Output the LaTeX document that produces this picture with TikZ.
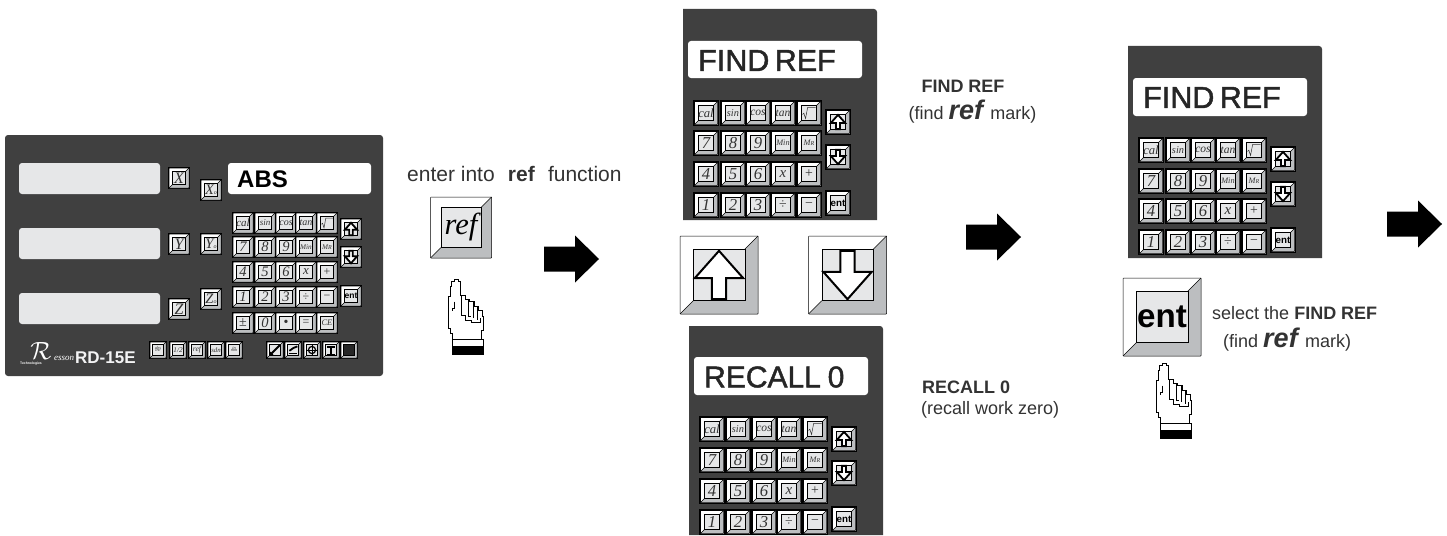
\documentclass[tikz,border=0pt]{standalone}
\usepackage{fontspec}
\setmainfont{Liberation Sans}
\newfontfamily\keyserif{Liberation Serif}
\newfontfamily\dispfont{Liberation Sans}[FakeBold=1.5]
\definecolor{panelgray}{HTML}{404040}
\definecolor{bevelgray}{HTML}{BCBEC0}
\definecolor{facegray}{HTML}{E6E7E8}
\definecolor{inkgray}{HTML}{333333}
\newcount\kn
\newcommand{\fsz}[1]{\fontsize{#1}{#1}\selectfont}
\tikzset{
  panelbox/.style={fill=panelgray},
  dispbox/.style={fill=#1,rounded corners=3pt},
  outtext/.style={inner sep=0pt,anchor=west,text=inkgray},
  keylabel/.style={inner sep=0pt,text=inkgray},
  keyline/.style={black,line width=.5pt},
  keyicon/.style={black,line cap=butt},
}
\def\kr{.66}
\newcommand{\keybody}{%
  \fill[white] (-1,-1) rectangle (1,1);
  \fill[bevelgray] (1,-1)--(1,1)--(-1,1)--(-\kr,\kr)--(\kr,\kr)--(\kr,-\kr)--cycle;
  \draw[keyline] (-1,1)--(-\kr,\kr) (1,-1)--(\kr,-\kr);
  \draw[keyline,rounded corners=.6pt] (-1,-1) rectangle (1,1);
  \draw[keyline,fill=facegray] (-\kr,-\kr) rectangle (\kr,\kr);
}
\let\keyextra\relax
% #1 x, #2 y, #3 half size, #4 label scale, #5 label
\newcommand{\ky}[5]{%
  \global\advance\kn by 1
  \pgfmathsetmacro\fs{#3*#4}
  \def\kr{.66}%
  \begin{scope}[shift={(#1,#2)},x=#3pt,y=-#3pt]
    \fill[black] (-1.12,-1.12) rectangle (1.12,1.12);
    \keybody
    \node[keylabel] (key\the\kn) at (0,0) {\fsz{\fs}#5};
    \keyextra
  \end{scope}%
  \global\let\keyextra\relax
}
\newcommand{\bigky}[5]{%
  \global\advance\kn by 1
  \pgfmathsetmacro\fs{#3*#4}
  \def\kr{.66}%
  \begin{scope}[shift={(#1,#2)},x=#3pt,y=-#3pt]
    \keybody
    \node[keylabel,text=black] (key\the\kn) at (0,0) {\fsz{\fs}#5};
    \keyextra
  \end{scope}%
  \global\let\keyextra\relax
}
\newcommand{\upglyph}[1]{\gdef\keyextra{\draw[black,fill=white,line width=#1pt] (0,-.62)--(.62,.08)--(.18,.08)--(.18,.62)--(-.18,.62)--(-.18,.08)--(-.62,.08)--cycle;}}
\newcommand{\downglyph}[1]{\gdef\keyextra{\draw[black,fill=white,line width=#1pt] (0,.62)--(.62,-.08)--(.18,-.08)--(.18,-.62)--(-.18,-.62)--(-.18,-.08)--(-.62,-.08)--cycle;}}
\newcommand{\rootglyph}{\gdef\keyextra{\draw[inkgray,line width=.5pt] (-.56,.12)--(-.45,.02)--(-.3,.48)--(-.12,-.48)--(.58,-.48);}}
\newcommand{\kit}[1]{{\keyserif\itshape #1}}
\newcommand{\padkeys}[1]{%
  \def\kh{#1}%
  \ky{\xa}{\ya}{\kh}{1.1}{\kit{cal}}
  \ky{\xb}{\ya}{\kh}{.9}{\kit{sin}}
  \ky{\xc}{\ya}{\kh}{1}{\kit{cos}}
  \ky{\xd}{\ya}{\kh}{1}{\kit{tan}}
  \rootglyph\ky{\xe}{\ya}{\kh}{1}{}
  \ky{\xa}{\yb}{\kh}{1.45}{\kit{7}}
  \ky{\xb}{\yb}{\kh}{1.45}{\kit{8}}
  \ky{\xc}{\yb}{\kh}{1.45}{\kit{9}}
  \ky{\xd}{\yb}{\kh}{.72}{\kit{Min}}
  \ky{\xe}{\yb}{\kh}{.72}{\kit{M\fsz{6}R}}
  \ky{\xa}{\yc}{\kh}{1.45}{\kit{4}}
  \ky{\xb}{\yc}{\kh}{1.45}{\kit{5}}
  \ky{\xc}{\yc}{\kh}{1.45}{\kit{6}}
  \ky{\xd}{\yc}{\kh}{1.3}{\kit{x}}
  \ky{\xe}{\yc}{\kh}{1.2}{\keyserif +}
  \ky{\xa}{\yd}{\kh}{1.45}{\kit{1}}
  \ky{\xb}{\yd}{\kh}{1.45}{\kit{2}}
  \ky{\xc}{\yd}{\kh}{1.45}{\kit{3}}
  \ky{\xd}{\yd}{\kh}{1.2}{\keyserif ÷}
  \ky{\xe}{\yd}{\kh}{1.2}{\keyserif −}
}
\newcommand{\sidekeys}[4]{%
  \upglyph{1.8}\ky{#1}{#2}{\kh}{1}{}
  \downglyph{1.8}\ky{#1}{#3}{\kh}{1}{}
  \ky{#1}{#4}{\kh}{.85}{\textcolor{black}{\textbf{ent}}}
}
\newcommand{\bigarrow}[2]{%
  \fill[black] (#1,#2-12.5)--++(31,0)--++(0,-11)--(#1+55,#2)--(#1+31,#2+23.5)--(#1+31,#2+12.5)--(#1,#2+12.5)--cycle;
}
\newcommand{\hand}[2]{%
  \begin{scope}[shift={(#1,#2)},x=.3333pt,y=-.3333pt]
    \draw[black,fill=white,line width=.9pt] (157,567)--(157,550)--(150,550)--(150,535)--(145,535)--(145,440)--(150,440)--(150,410)--(155,410)--(155,395)--(162,395)--(162,387)--(175,387)--(175,395)--(180,395)--(180,437)--(195,437)--(195,447)--(207,447)--(207,455)--(222,455)--(222,470)--(235,470)--(235,482)--(247,482)--(247,500)--(250,500)--(250,540)--(245,540)--(245,567)--cycle;
    \draw[black,line width=.9pt] (185,437)--(185,495)--(195,495)--(195,510)--(215,510)--(215,518)--(240,518)--(240,505);
    \draw[black,line width=.9pt] (204,447)--(204,500)--(212,500);
    \draw[black,line width=.9pt] (219,455)--(219,505);
    \draw[black,line width=.9pt] (233,470)--(233,510);
    \draw[black,line width=.9pt] (162,455)--(162,475)--(157,475)--(157,482);
    \draw[black,fill=white,line width=.9pt] (156,567) rectangle (251,590);
    \fill[black] (155,590) rectangle (252,614);
  \end{scope}%
}
\begin{document}
\begin{tikzpicture}[x=1pt,y=-1pt]
\useasboundingbox (0,0) rectangle (1447,535);
\fill[white] (0,0) rectangle (1447,535);

% ---------- main console
\fill[panelgray,rounded corners=3pt] (5,135) rectangle (383,376);
\fill[dispbox=facegray] (19,163) rectangle (160,194);
\fill[dispbox=facegray] (19,228) rectangle (160,259);
\fill[dispbox=facegray] (19,293) rectangle (160,324);
\fill[dispbox=white] (228,163) rectangle (371,194);
\node[inner sep=0pt,anchor=west,text=black] (absword) at (237,179) {\fsz{24}\textbf{ABS}};
\ky{179}{178}{10}{1.6}{\kit{X}}
\ky{211}{190}{10}{1.45}{\kit{X\fsz{6}o}}
\ky{179}{244}{10}{1.6}{\kit{Y}}
\ky{211}{244}{10}{1.45}{\kit{Y\fsz{6}o}}
\ky{179}{309}{10}{1.6}{\kit{Z}}
\ky{211}{299}{10}{1.45}{\kit{Z\fsz{6}o}}
\def\xa{243}\def\xb{265}\def\xc{286}\def\xd{306}\def\xe{327}
\def\ya{223}\def\yb{247}\def\yc{272}\def\yd{297}
\padkeys{10}
\sidekeys{351}{229}{257}{296}
\ky{243}{323}{10}{1.4}{\keyserif ±}
\ky{265}{323}{10}{1.45}{\kit{0}}
\ky{286}{323}{10}{1.4}{\keyserif •}
\ky{306}{323}{10}{1.2}{\keyserif =}
\ky{327}{323}{10}{.85}{\kit{CE}}
% function row
\ky{158}{350}{8}{.55}{\begin{tabular}{@{}c@{}}\kit{abs}\\[-2.5pt]\kit{inc}\end{tabular}}
\ky{178}{350}{8}{.9}{\kit{1/2}}
\ky{197}{350}{8}{.95}{\kit{ref}}
\ky{216}{350}{8}{.85}{\kit{sdn}}
\ky{234}{350}{8}{.55}{\begin{tabular}{@{}c@{}}\kit{in}\\[-2.5pt]\kit{mm}\end{tabular}}
% icon row
\gdef\keyextra{\draw[keyicon,line width=2pt] (-.6,.6)--(.6,-.6);\fill[black] (-.6,.6)--(-.6,.2)--(-.2,.6)--cycle;}
\ky{275}{350}{8}{1}{}
\gdef\keyextra{\draw[keyicon,line width=1.8pt] (-.45,.1)--(.05,-.25)--(.55,-.45);\draw[keyicon,line width=1.5pt] (-.55,.45)--(.55,.45);}
\ky{293}{350}{8}{1}{}
\gdef\keyextra{\draw[keyicon,line width=1.2pt] (0,0) circle (.45);\draw[keyicon,line width=.8pt] (-.6,0)--(.6,0) (0,-.6)--(0,.6);}
\ky{312}{350}{8}{1}{}
\gdef\keyextra{\draw[keyicon,line width=2pt] (-.45,-.4)--(.45,-.4) (0,-.4)--(0,.55);\draw[keyicon,line width=.8pt] (-.55,.55)--(.55,.55);}
\ky{331}{350}{8}{1}{}
\gdef\keyextra{\fill[black!85] (-.65,-.65) rectangle (.65,.65);}
\ky{349}{350}{8}{1}{}
% logo
\node[inner sep=0pt,text=white] (logor) at (41,351) {\fsz{36}$\mathcal{R}$};
\node[inner sep=0pt,anchor=west,text=white] (logoe) at (54,358) {\fsz{9}\keyserif\itshape esson};
\node[inner sep=0pt,anchor=west,text=white] (logot) at (20,363.5) {\fsz{3.4}\textbf{Technologies}};
\node[inner sep=0pt,anchor=west,text=facegray!50!white] (model) at (75,358) {\fsz{17}\textbf{RD-15E}};

% ---------- step 1
\node[outtext] (entertext) at (407,174) {\fsz{21}enter into\hspace{.35em} \textbf{ref}\hspace{.35em} function};
\bigky{461}{227.5}{30.5}{1}{\kit{ref}}
\hand{400}{150}
\bigarrow{544}{259}

% ---------- FIND REF panel
\path[panelbox] (683,9)--(874,9)to[out=0,in=90](877,12)--(877,220)--(683,220)--cycle;
\fill[dispbox=white] (688,41) rectangle (862,78);
\node[inner sep=0pt,anchor=west,text=black!85] (find1) at (698,60.5) {\fsz{30.5}{\dispfont FIND\hspace{-.1em} REF}};
\def\xa{706}\def\xb{733}\def\xc{758}\def\xd{783}\def\xe{809}
\def\ya{113}\def\yb{143}\def\yc{174}\def\yd{205}
\padkeys{11.5}
\sidekeys{838}{122}{157}{203}
\node[outtext,anchor=center] (find1lab) at (963,86) {\fsz{18}\textbf{FIND REF}};
\node[outtext,anchor=center] (find1sub) at (972.5,112) {\fsz{18}(find \fsz{27}\textbf{\itshape ref}\fsz{18} mark)};

% ---------- big arrow keys
\upglyph{2}\bigky{719}{275}{39}{1}{}
\downglyph{2}\bigky{847.5}{275}{39}{1}{}

% ---------- RECALL 0 panel
\path[panelbox] (689,326)--(880,326)to[out=0,in=90](883,329)--(883,535)--(689,535)--cycle;
\fill[dispbox=white] (694,357) rectangle (868,395);
\node[inner sep=0pt,anchor=west,text=black!85] (recall) at (704,377) {\fsz{30}{\dispfont RECALL\hspace{-.05em} 0}};
\def\xa{712}\def\xb{738}\def\xc{764}\def\xd{789}\def\xe{815}
\def\ya{429}\def\yb{460}\def\yc{491}\def\yd{522}
\padkeys{11.5}
\sidekeys{844}{439}{473}{519}
\node[outtext] (recalllab) at (922,387) {\fsz{18}\textbf{RECALL 0}};
\node[outtext] (recallsub) at (921,410) {\fsz{18}(recall work zero)};

\bigarrow{966}{237}

% ---------- FIND REF panel, step 3
\path[panelbox] (1128,46)--(1319,46)to[out=0,in=90](1322,49)--(1322,258)--(1128,258)--cycle;
\fill[dispbox=white] (1133,78) rectangle (1307,116);
\node[inner sep=0pt,anchor=west,text=black!85] (find2) at (1143,97.5) {\fsz{30.5}{\dispfont FIND\hspace{-.1em} REF}};
\def\xa{1151}\def\xb{1178}\def\xc{1203}\def\xd{1228}\def\xe{1254}
\def\ya{150}\def\yb{181}\def\yc{211}\def\yd{242}
\padkeys{11.5}
\sidekeys{1283}{159}{194}{240}
\bigarrow{1387}{224}

% ---------- ent key
\bigky{1162}{317}{39}{.85}{\textbf{ent}}
\hand{1108}{234}
\node[outtext] (seltext) at (1212,313) {\fsz{18}select the \textbf{FIND REF}};
\node[outtext] (selsub) at (1223,340) {\fsz{18}(find \fsz{27}\textbf{\itshape ref}\fsz{18} mark)};
\end{tikzpicture}
\end{document}
